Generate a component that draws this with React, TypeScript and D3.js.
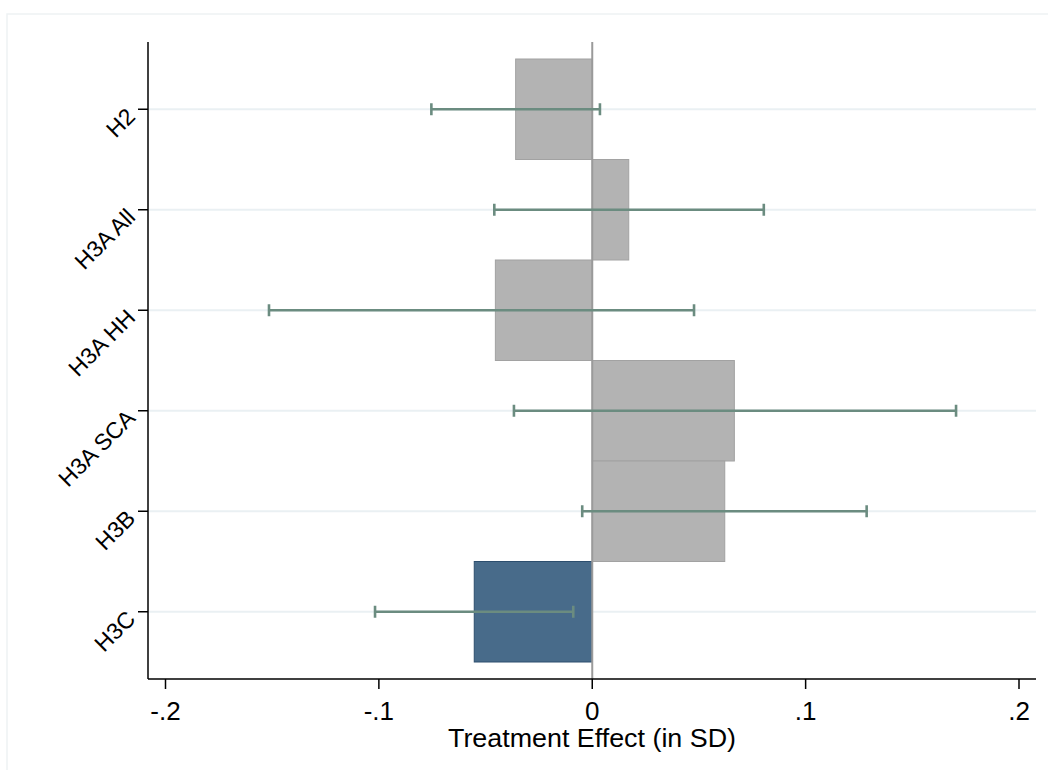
import * as d3 from 'd3'

const width = 1048
const height = 770

const categories = ['H2', 'H3A All', 'H3A HH', 'H3A SCA', 'H3B', 'H3C']
const effects = [-0.0359, 0.0171, -0.0454, 0.0666, 0.0621, -0.0553]
const ciLow = [-0.0754, -0.0459, -0.1515, -0.0367, -0.0047, -0.1018]
const ciHigh = [0.0036, 0.0804, 0.0477, 0.1705, 0.1286, -0.0089]
const highlighted = ['H3C']
const xTicks = [-0.2, -0.1, 0, 0.1, 0.2]
const xTickLabels = ['-.2', '-.1', '0', '.1', '.2']
const xTitle = 'Treatment Effect (in SD)'

const plot = { left: 148, right: 1036, top: 42, bottom: 679 }
const font = '"Liberation Sans", Arial, Helvetica, sans-serif'

function App() {
  const xScale = d3.scaleLinear().domain([-0.2, 0.2]).range([165.5, 1019])
  const yScale = d3.scaleBand<string>().domain(categories).range([59, 662]).padding(0)
  const band = yScale.bandwidth()
  const yMid = (c: string) => (yScale(c) as number) + band / 2

  return (
    <svg width={width} height={height} style={{ position: 'absolute', left: 0, top: 0, background: '#fff' }}>
      {/* outer graph region frame */}
      <rect x={7} y={14} width={1060} height={800} fill="none" stroke="#eef2f4" strokeWidth={1.5} />

      {/* gridlines */}
      {categories.map((c) => (
        <line key={'g' + c} x1={plot.left + 1} x2={plot.right} y1={yMid(c)} y2={yMid(c)}
          stroke="#eaf0f3" strokeWidth={2} />
      ))}

      {/* bars */}
      {categories.map((c, i) => {
        const x0 = xScale(Math.min(0, effects[i]))
        const x1 = xScale(Math.max(0, effects[i]))
        const hi = highlighted.includes(c)
        return (
          <rect key={'b' + c} x={x0} y={yScale(c)} width={x1 - x0} height={band}
            fill={hi ? '#486b8a' : '#b3b3b3'} stroke={hi ? '#2c4e6e' : '#a2a2a2'} strokeWidth={1} />
        )
      })}

      {/* zero line */}
      <line x1={xScale(0)} x2={xScale(0)} y1={plot.top} y2={plot.bottom} stroke="#9a9a9a" strokeWidth={2} />

      {/* confidence intervals */}
      {categories.map((c, i) => {
        const y = yMid(c)
        return (
          <g key={'e' + c} stroke="#6b8c80">
            <line x1={xScale(ciLow[i])} x2={xScale(ciHigh[i])} y1={y} y2={y} strokeWidth={2.6} />
            <line x1={xScale(ciLow[i])} x2={xScale(ciLow[i])} y1={y - 6} y2={y + 6} strokeWidth={2.6} />
            <line x1={xScale(ciHigh[i])} x2={xScale(ciHigh[i])} y1={y - 6} y2={y + 6} strokeWidth={2.6} />
          </g>
        )
      })}

      {/* y axis */}
      <line x1={plot.left} x2={plot.left} y1={plot.top} y2={plot.bottom} stroke="#000" strokeWidth={1.5} />
      {categories.map((c) => (
        <g key={'yt' + c}>
          <line x1={plot.left - 10} x2={plot.left} y1={yMid(c)} y2={yMid(c)} stroke="#000" strokeWidth={1.5} />
          <text transform={`translate(${plot.left - 17}, ${yMid(c) + 3}) rotate(-45)`}
            textAnchor="end" dominantBaseline="central" fontFamily={font} fontSize={23} fill="#000">{c}</text>
        </g>
      ))}

      {/* x axis */}
      <line x1={plot.left} x2={plot.right} y1={plot.bottom} y2={plot.bottom} stroke="#000" strokeWidth={1.5} />
      {xTicks.map((t, i) => (
        <g key={'xt' + t} transform={`translate(${xScale(t)}, 0)`}>
          <line y1={plot.bottom} y2={plot.bottom + 10} stroke="#000" strokeWidth={1.5} />
          <text y={720} textAnchor="middle" fontFamily={font} fontSize={26} fill="#000">{xTickLabels[i]}</text>
        </g>
      ))}
      <text x={(plot.left + plot.right) / 2} y={747} textAnchor="middle" fontFamily={font} fontSize={26}
        textLength={288} lengthAdjust="spacingAndGlyphs" fill="#000">{xTitle}</text>
    </svg>
  )
}

export default App
